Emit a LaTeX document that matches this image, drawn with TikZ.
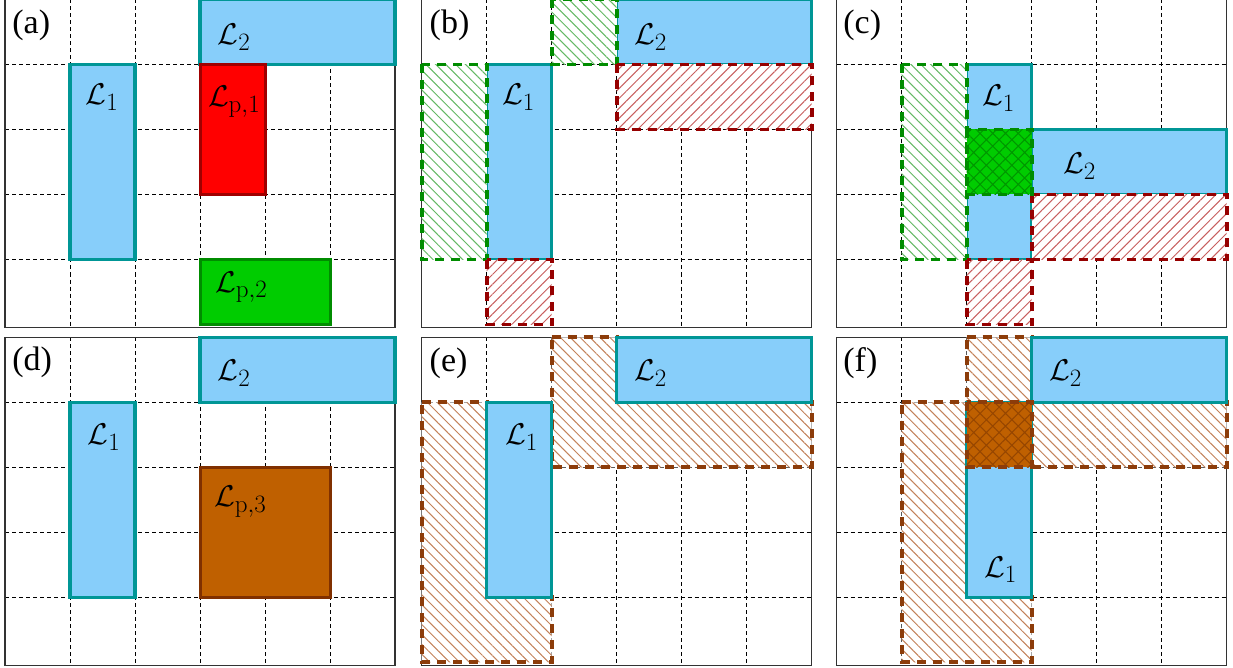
\RequirePackage{fix-cm}
\documentclass[tikz,border=0pt]{standalone}
\usepackage[no-math]{fontspec}
\newfontfamily\lblfont{Liberation Serif}
\usetikzlibrary{patterns.meta}
\DeclareMathSizes{30}{30}{25}{20}
\definecolor{lblue}{RGB}{135,206,250}
\definecolor{tealb}{RGB}{0,150,150}
\definecolor{rfill}{RGB}{255,0,0}
\definecolor{rdark}{RGB}{160,0,0}
\definecolor{gfill}{RGB}{0,204,0}
\definecolor{gdark}{RGB}{0,140,0}
\definecolor{bfill}{RGB}{191,96,0}
\definecolor{bdark}{RGB}{128,48,0}
\definecolor{gdash}{RGB}{0,140,0}
\definecolor{rdash}{RGB}{150,0,0}
\definecolor{bdash}{RGB}{140,60,10}
\definecolor{ghl}{RGB}{100,185,100}
\definecolor{rhl}{RGB}{200,95,95}
\definecolor{bhl}{RGB}{195,130,90}
\definecolor{gxl}{RGB}{0,150,0}
\definecolor{bxl}{RGB}{150,70,0}
\tikzset{
  gridl/.style={black, line width=0.8pt, dash pattern=on 4pt off 3pt},
  panelframe/.style={draw=black!80, line width=1.2pt},
  lrect/.style={fill=lblue, draw=tealb, line width=3.2pt},
  redrect/.style={fill=rfill, draw=rdark, line width=3pt},
  greenrect/.style={fill=gfill, draw=gdark, line width=3pt},
  brownrect/.style={fill=bfill, draw=bdark, line width=3pt},
  hatchbase/.style={preaction={fill=white}, line width=3.8pt, dash pattern=on 9pt off 7pt},
  ghatch/.style={hatchbase, draw=gdash, pattern={Lines[angle=-45,distance=7pt,line width=1pt]}, pattern color=ghl},
  rhatch/.style={hatchbase, draw=rdash, pattern={Lines[angle=45,distance=7pt,line width=1pt]}, pattern color=rhl},
  bhatch/.style={hatchbase, draw=bdash, pattern={Lines[angle=-45,distance=7pt,line width=1pt]}, pattern color=bhl},
  gcross/.style={preaction={fill=gfill}, line width=3.8pt, dash pattern=on 9pt off 7pt, draw=gdash, pattern={Hatch[angle=45,distance=9pt,line width=1pt]}, pattern color=gxl},
  bcross/.style={preaction={fill=bfill}, line width=3.8pt, dash pattern=on 9pt off 7pt, draw=bdash, pattern={Hatch[angle=45,distance=9pt,line width=1pt]}, pattern color=bxl},
  lbl/.style={inner sep=0pt, anchor=base west, font=\fontsize{30}{36}\selectfont},
  plbl/.style={inner sep=0pt, anchor=base west, font=\lblfont\fontsize{34}{40}\selectfont},
}
\newcommand{\pgridframe}{%
  \foreach \i in {1,...,5} \draw[gridl] (\i,0) -- (\i,5.045);
  \foreach \j in {1,...,4} \draw[gridl] (0,\j) -- (6,\j);
  \draw[panelframe] (0,0) rectangle (6,5.045);
}
\begin{document}
\begin{tikzpicture}[x=1pt,y=-1pt]
\clip (0,0) rectangle (1233,668);
\fill[white] (0,0) rectangle (1233,668);
% (a)
\begin{scope}[shift={(5,-0.5)}, x=65pt, y=-65pt]
  \pgridframe
  \draw[lrect] (3,0) rectangle (6,1);
  \draw[lrect] (1,1) rectangle (2,4);
  \draw[redrect] (3,1) rectangle (4,3);
  \draw[greenrect] (3,4) rectangle (5,5);
  \node[plbl] (a-tag) at (0.11,0.52) {(a)};
  \node[lbl] (a-L2) at (3.27,0.69) {$\mathcal{L}_2$};
  \node[lbl] (a-L1) at (1.24,1.62) {$\mathcal{L}_1$};
  \node[lbl] (a-Lp1) at (3.12,1.65) {$\mathcal{L}_{\mathrm{p},1}$};
  \node[lbl] (a-Lp2) at (3.23,4.5) {$\mathcal{L}_{\mathrm{p},2}$};
\end{scope}
% (b)
\begin{scope}[shift={(421.7,-0.5)}, x=65pt, y=-65pt]
  \pgridframe
  \draw[lrect] (3,0) rectangle (6,1);
  \draw[lrect] (1,1) rectangle (2,4);
  \draw[ghatch] (0,1) rectangle (1,4);
  \draw[ghatch] (2,0) rectangle (3,1);
  \draw[rhatch] (3,1) rectangle (6,2);
  \draw[rhatch] (1,4) rectangle (2,5);
  \node[plbl] (b-tag) at (0.12,0.52) {(b)};
  \node[lbl] (b-L2) at (3.265,0.69) {$\mathcal{L}_2$};
  \node[lbl] (b-L1) at (1.235,1.62) {$\mathcal{L}_1$};
\end{scope}
% (c)
\begin{scope}[shift={(836.7,-0.5)}, x=65pt, y=-65pt]
  \pgridframe
  \draw[lrect] (2,1) rectangle (3,4);
  \draw[lrect] (3,2) rectangle (6,3);
  \draw[ghatch] (1,1) rectangle (2,4);
  \draw[rhatch] (3,3) rectangle (6,4);
  \draw[rhatch] (2,4) rectangle (3,5);
  \draw[gcross] (2,2) rectangle (3,3);
  \node[plbl] (c-tag) at (0.1,0.52) {(c)};
  \node[lbl] (c-L1) at (2.235,1.63) {$\mathcal{L}_1$};
  \node[lbl] (c-L2) at (3.48,2.68) {$\mathcal{L}_2$};
\end{scope}
% (d)
\begin{scope}[shift={(5,337.3)}, x=65pt, y=-65pt]
  \pgridframe
  \draw[lrect] (3,0) rectangle (6,1);
  \draw[lrect] (1,1) rectangle (2,4);
  \draw[brownrect] (3,2) rectangle (5,4);
  \node[plbl] (d-tag) at (0.11,0.51) {(d)};
  \node[lbl] (d-L2) at (3.27,0.67) {$\mathcal{L}_2$};
  \node[lbl] (d-L1) at (1.27,1.65) {$\mathcal{L}_1$};
  \node[lbl] (d-Lp3) at (3.215,2.61) {$\mathcal{L}_{\mathrm{p},3}$};
\end{scope}
% (e)
\begin{scope}[shift={(421.7,337.3)}, x=65pt, y=-65pt]
  \pgridframe
  \draw[bhatch] (0,1) -- (1,1) -- (1,4) -- (2,4) -- (2,5) -- (0,5) -- cycle;
  \draw[bhatch] (2,0) -- (3,0) -- (3,1) -- (6,1) -- (6,2) -- (2,2) -- cycle;
  \draw[lrect] (3,0) rectangle (6,1);
  \draw[lrect] (1,1) rectangle (2,4);
  \node[plbl] (e-tag) at (0.12,0.53) {(e)};
  \node[lbl] (e-L2) at (3.265,0.67) {$\mathcal{L}_2$};
  \node[lbl] (e-L1) at (1.28,1.65) {$\mathcal{L}_1$};
\end{scope}
% (f)
\begin{scope}[shift={(836.7,337.3)}, x=65pt, y=-65pt]
  \pgridframe
  \draw[bhatch] (1,1) -- (2,1) -- (2,4) -- (3,4) -- (3,5) -- (1,5) -- cycle;
  \draw[bhatch] (2,0) -- (3,0) -- (3,1) -- (6,1) -- (6,2) -- (2,2) -- cycle;
  \draw[lrect] (3,0) rectangle (6,1);
  \draw[lrect] (2,1) rectangle (3,4);
  \draw[bcross] (2,1) rectangle (3,2);
  \node[plbl] (f-tag) at (0.1,0.53) {(f)};
  \node[lbl] (f-L2) at (3.265,0.67) {$\mathcal{L}_2$};
  \node[lbl] (f-L1) at (2.265,3.69) {$\mathcal{L}_1$};
\end{scope}
\end{tikzpicture}
\end{document}
